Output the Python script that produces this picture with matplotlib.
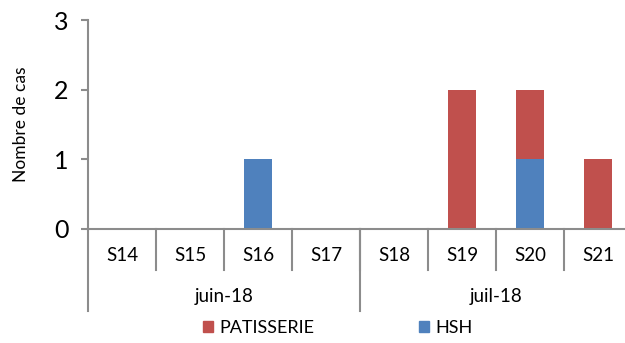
import matplotlib.pyplot as plt
from matplotlib.patches import Patch
import matplotlib.transforms as mtransforms

weeks = ["S14", "S15", "S16", "S17", "S18", "S19", "S20", "S21"]
months = ["juin-18", "juil-18"]
month_sizes = [4, 4]
hsh = [0, 0, 1, 0, 0, 0, 1, 0]
patisserie = [0, 0, 0, 0, 0, 2, 1, 1]

RED = "#C0504D"
BLUE = "#4F81BD"
GREY = "#8C8C8C"

plt.rcParams["font.family"] = ["Lato", "DejaVu Sans"]

fig = plt.figure(figsize=(6.25, 3.43), dpi=100)
ax = fig.add_axes([88 / 625, 1 - 229 / 343, 544 / 625, 209 / 343])

x = list(range(len(weeks)))
ax.bar(x, hsh, width=0.4, color=BLUE, label="HSH")
ax.bar(x, patisserie, width=0.4, bottom=hsh, color=RED, label="PATISSERIE")

ax.set_xlim(-0.5, len(weeks) - 0.5)
ax.set_ylim(0, 3)
ax.set_yticks([0, 1, 2, 3])
ax.tick_params(axis="y", labelsize=18, length=5, width=1.5, color=GREY, pad=9)
ax.set_ylabel("Nombre de cas", fontsize=12.5, labelpad=18)

for s in ["top", "right"]:
    ax.spines[s].set_visible(False)
for s in ["left", "bottom"]:
    ax.spines[s].set_color(GREY)
    ax.spines[s].set_linewidth(1.5)

# two-level category axis: weeks, then months
ax.set_xticks([])
trans = mtransforms.blended_transform_factory(ax.transData, ax.transAxes)
for i, w in enumerate(weeks):
    ax.text(i, -0.125, w, transform=trans, ha="center", va="center", fontsize=13.5)
    ax.plot([i + 0.5, i + 0.5], [0, -0.196], transform=trans, color=GREY,
            lw=1.5, clip_on=False)

start = -0.5
ax.plot([start, start], [0, -0.392], transform=trans, color=GREY, lw=1.5,
        clip_on=False)
for m, n in zip(months, month_sizes):
    end = start + n
    ax.text((start + end) / 2, -0.325, m, transform=trans, ha="center",
            va="center", fontsize=13.5)
    ax.plot([end, end], [0, -0.392], transform=trans, color=GREY, lw=1.5,
            clip_on=False)
    start = end

handles = [Patch(color=RED, label="PATISSERIE"), Patch(color=BLUE, label="HSH")]
fig.legend(handles=handles, loc="center", bbox_to_anchor=(0.54, 0.044), ncol=2,
           frameon=False, fontsize=13, handlelength=0.55, handleheight=0.55,
           handletextpad=0.35, columnspacing=5.8)

fig.savefig("out.png", dpi=100)
